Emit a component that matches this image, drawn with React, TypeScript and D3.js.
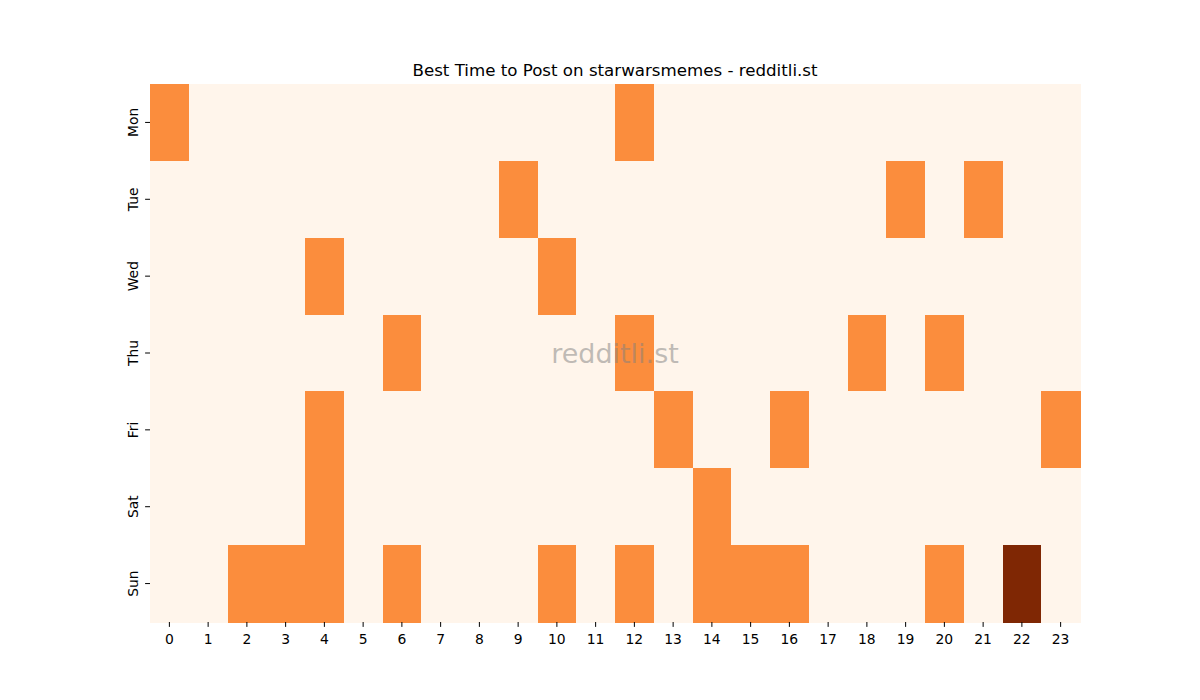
import * as d3 from "d3";

const days = ["Mon", "Tue", "Wed", "Thu", "Fri", "Sat", "Sun"];
const hours = d3.range(24);

// hour slots per day with value 1; the single value-2 slot is listed separately
const monHours = [0, 12];
const tueHours = [9, 19, 21];
const wedHours = [4, 10];
const thuHours = [6, 12, 18, 20];
const friHours = [4, 13, 16, 23];
const satHours = [4, 14];
const sunHours = [2, 3, 4, 6, 10, 12, 14, 15, 16, 20];
const peakSlots = [{ day: "Sun", hour: 22, value: 2 }];

const hitsByDay = [monHours, tueHours, wedHours, thuHours, friHours, satHours, sunHours];

type Cell = { day: string; hour: number; value: number };

const cells: Cell[] = days.flatMap((day, i) =>
  hours.map((hour) => {
    const peak = peakSlots.find((p) => p.day === day && p.hour === hour);
    const value = peak ? peak.value : hitsByDay[i].includes(hour) ? 1 : 0;
    return { day, hour, value };
  }),
);

export default function App() {
  const width = 1200;
  const height = 700;
  const margin = { top: 84, right: 120, bottom: 78, left: 150 };
  const font = "DejaVu Sans, sans-serif";

  const x = d3
    .scaleBand<number>()
    .domain(hours)
    .range([margin.left, width - margin.right]);
  const y = d3
    .scaleBand<string>()
    .domain(days)
    .range([margin.top, height - margin.bottom]);

  const color = d3.scaleSequential(d3.interpolateOranges).domain([0, 2]);

  const plotBottom = height - margin.bottom;
  const plotCx = (margin.left + width - margin.right) / 2;
  const plotCy = (margin.top + plotBottom) / 2;

  return (
    <svg
      width={width}
      height={height}
      style={{ position: "absolute", left: 0, top: 0, background: "#fff" }}
      fontFamily={font}
    >
      <text x={plotCx} y={76} textAnchor="middle" fontSize={16.67} fill="#000">
        Best Time to Post on starwarsmemes - redditli.st
      </text>

      <g shapeRendering="crispEdges">
        {cells.map((c) => (
          <rect
            key={`${c.day}-${c.hour}`}
            x={x(c.hour)}
            y={y(c.day)}
            width={x.bandwidth() + 0.5}
            height={y.bandwidth() + 0.5}
            fill={color(c.value)}
          />
        ))}
      </g>

      {hours.map((h) => {
        const xx = (x(h) ?? 0) + x.bandwidth() / 2;
        return (
          <g key={h}>
            <line x1={xx} x2={xx} y1={plotBottom} y2={plotBottom + 4.9} stroke="#000" strokeWidth={1} />
            <text x={xx} y={plotBottom + 21.5} textAnchor="middle" fontSize={13.9} fill="#000">
              {h}
            </text>
          </g>
        );
      })}

      {days.map((d) => {
        const yy = (y(d) ?? 0) + y.bandwidth() / 2;
        const tx = margin.left - 12;
        return (
          <g key={d}>
            <line x1={margin.left - 4.9} x2={margin.left} y1={yy} y2={yy} stroke="#000" strokeWidth={1} />
            <text
              x={tx}
              y={yy}
              textAnchor="middle"
              fontSize={13.9}
              fill="#000"
              transform={`rotate(-90, ${tx}, ${yy})`}
            >
              {d}
            </text>
          </g>
        );
      })}

      <text
        x={plotCx}
        y={plotCy + 10}
        textAnchor="middle"
        fontSize={27}
        fill="#808080"
        fillOpacity={0.5}
      >
        redditli.st
      </text>
    </svg>
  );
}
